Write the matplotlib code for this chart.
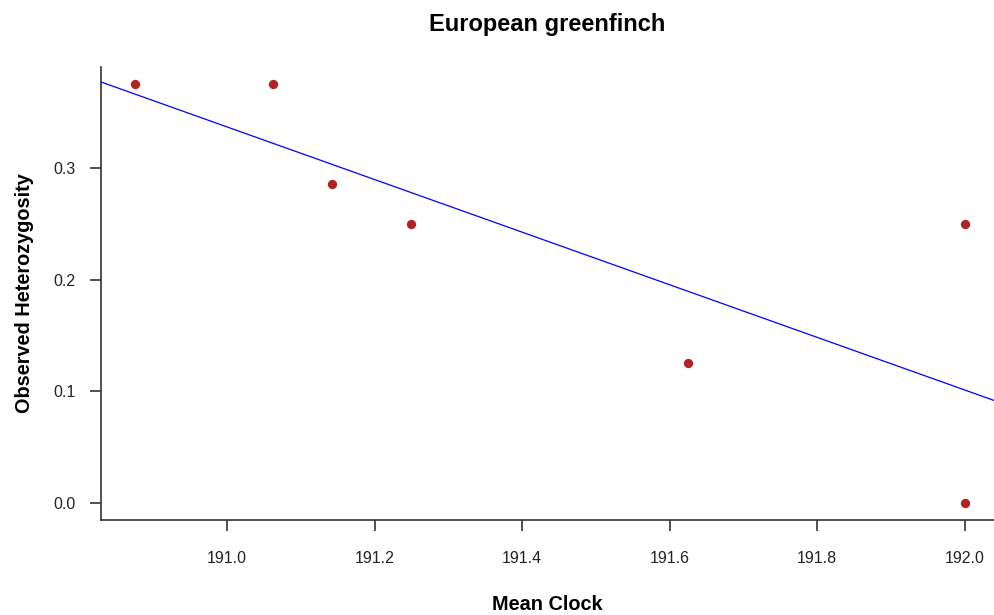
import numpy as np
import matplotlib
matplotlib.use("Agg")
import matplotlib.pyplot as plt

plt.rcParams['font.family'] = ['Liberation Sans', 'DejaVu Sans']

# Mean clock length vs observed heterozygosity per population
mean_clock = [190.875, 191.0625, 191.142857, 191.25, 191.625, 192.0, 192.0]
obs_het = [0.375, 0.375, 0.285714, 0.25, 0.125, 0.25, 0.0]

x_ticks = [191.0, 191.2, 191.4, 191.6, 191.8, 192.0]
y_ticks = [0.0, 0.1, 0.2, 0.3]

fig = plt.figure(figsize=(9.94, 6.15), dpi=100)
ax = fig.add_axes([0.1016, 0.1545, 0.8984, 0.7366])

ax.scatter(mean_clock, obs_het, s=45, color='#B22222', zorder=3, linewidths=0)

# least squares fit line across the whole plotting region
xlim = (190.829, 192.04)
slope, intercept = np.polyfit(mean_clock, obs_het, 1)
xs = np.array(xlim)
ax.plot(xs, intercept + slope * xs, color='blue', linewidth=0.9)

ax.set_xlim(*xlim)
ax.set_ylim(-0.0152, 0.3903)
ax.set_xticks(x_ticks)
ax.set_xticklabels([f"{v:.1f}" for v in x_ticks])
ax.set_yticks(y_ticks)
ax.set_yticklabels([f"{v:.1f}" for v in y_ticks])

for side in ['top', 'right']:
    ax.spines[side].set_visible(False)
for side in ['left', 'bottom']:
    ax.spines[side].set_color('#333333')
    ax.spines[side].set_linewidth(1.2)
ax.tick_params(direction='out', length=8, width=1.2, color='#333333',
               labelsize=11.5, labelcolor='#222222')
ax.tick_params(axis='x', pad=14)
ax.tick_params(axis='y', pad=10)

ax.set_title("European greenfinch", fontsize=17, fontweight='bold', pad=26)
ax.set_xlabel("Mean Clock", fontsize=14.3, fontweight='bold', labelpad=21)
ax.set_ylabel("Observed Heterozygosity", fontsize=14.3, fontweight='bold', labelpad=14)

fig.savefig("out.png", dpi=100)
